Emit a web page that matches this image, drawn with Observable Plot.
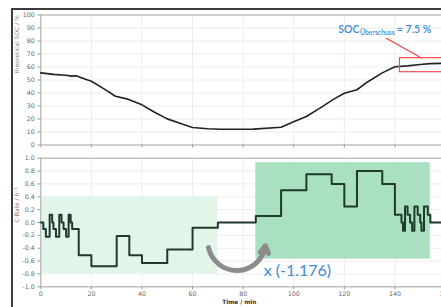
<!DOCTYPE html>
<html><head><meta charset="utf-8">
<script src="https://cdn.jsdelivr.net/npm/d3@7"></script>
<script src="https://cdn.jsdelivr.net/npm/@observablehq/plot@0.6"></script>
<style>
html,body{margin:0;padding:0;background:#fff;overflow:hidden}
#wrap{position:relative;width:441px;height:307px;overflow:hidden;background:#fff}
#top,#bottom{position:absolute;left:0}
#top{top:0}
#bottom{top:150px}
.frameL{position:absolute;left:11px;top:8px;width:2px;height:300px;background:#3c3c3c}
.frameT{position:absolute;left:11px;top:8px;width:440px;height:2px;background:#3c3c3c}
</style></head><body>
<div id="wrap"><div id="top"></div><div id="bottom"></div><div class="frameL"></div><div class="frameT"></div></div>
<script>
// ---- data ----
const xTicks = [0, 20, 40, 60, 80, 100, 120, 140, 160];
const socTicks = [0, 10, 20, 30, 40, 50, 60, 70, 80, 90, 100];
const crateTicks = [-1.0, -0.8, -0.6, -0.4, -0.2, 0.0, 0.2, 0.4, 0.6, 0.8, 1.0];

const socTime  = [0, 5, 10, 12, 14, 16, 20, 25, 29.5, 34, 40, 45, 50, 55, 60, 66, 71, 84, 95, 99.5, 105, 110.5, 116, 120, 125, 129, 135, 140, 145, 150, 154, 160];
const socValue = [55.5, 54.3, 53.7, 53.0, 53.2, 51.8, 49.0, 43.2, 37.5, 35.5, 30.9, 25.2, 20.1, 16.8, 13.5, 12.5, 12.1, 12.2, 13.7, 17.5, 21.9, 28.6, 35.5, 39.8, 42.5, 48.3, 55.5, 60.2, 60.9, 61.9, 62.6, 62.9];

const crateTime  = [0, 1, 2, 3.5, 4.5, 5, 6, 7.3, 8.2, 9, 10, 11, 11.8, 12.4, 15, 20, 30, 35, 40, 50, 60, 70, 85, 95, 105, 115, 120, 125, 135, 140, 142.6, 143.2, 144, 145, 146, 146.8, 147.7, 149, 150, 150.5, 151.5, 153, 154, 155, 160];
const crateValue = [0, -0.1, -0.22, 0.12, 0, -0.1, -0.22, 0.12, 0, -0.1, -0.22, 0.12, 0, -0.1, -0.51, -0.68, -0.21, -0.51, -0.63, -0.42, -0.08, 0, 0.1, 0.5, 0.75, 0.6, 0.25, 0.8, 0.6, 0.12, 0, -0.13, 0.25, 0.12, 0, -0.13, 0.25, 0.12, 0, -0.13, 0.25, 0.12, 0, 0, 0];

const bandStart = [0, 85];
const bandEnd   = [70, 154];
const bandLow   = [-0.8, -0.57];
const bandHigh  = [0.4, 0.93];

const surplusBox  = {x1: 142, x2: 166, y1: 56, y2: 66.8};
const surplusLine = {x1: 136.5, y1: 82.2, x2: 150.7, y2: 66.8};
const socMain = ["SOC"];
const socSub = ["Überschuss"];
const socValueText = ["= 7.5 %"];
const socMainAt = [126.0, 89];
const socSubAt = [126.2, 86.6];
const socValueAt = [154.4, 89];

const arrowFrom = [66.3, -0.39];
const arrowTo   = [88.8, -0.36];
const factorLabel = ["x (-1.176)"];
const factorAt = [88.1, -0.745];

const topYLabel = ["theoretical SOC / %"];
const topYLabelAt = [55];
const botYLabel = ["C-Rate / h\u207B\u00B9"];
const botYLabelAt = [0];
const xLabel = ["Time / min"];
const xLabelAt = [78.5];

// ---- build ----
const soc = socTime.map((t, i) => ({t, v: socValue[i]}));
const crate = crateTime.map((t, i) => ({t, v: crateValue[i]}));
const bands = bandStart.map((s, i) => ({x1: s, x2: bandEnd[i], y1: bandLow[i], y2: bandHigh[i]}));
const style = {fontFamily: "DejaVu Sans, sans-serif", fontSize: "6.3px", color: "#666", background: "transparent", overflow: "visible"};
const xr = [40.3, 445];
const grid = {stroke: "#ececec", strokeOpacity: 1};
const edge = {stroke: "#a8a8a8", strokeWidth: 1};
const blue = {fill: "#3d8bd9", fontWeight: 600, fontFamily: "Lato, sans-serif"};

const topPlot = Plot.plot({
  width: 441, height: 150,
  marginLeft: 40.3, marginRight: -4, marginTop: 14.5, marginBottom: 5.5,
  style,
  x: {domain: [xTicks[0], xTicks[xTicks.length - 1]], range: xr},
  y: {domain: [socTicks[0], socTicks[socTicks.length - 1]], range: [144.5, 14.5]},
  marks: [
    Plot.gridX(xTicks, grid),
    Plot.gridY(socTicks, grid),
    Plot.ruleY([socTicks[0], socTicks[socTicks.length - 1]], edge),
    Plot.ruleX([xTicks[0]], edge),
    Plot.axisY(socTicks, {tickSize: 3, tickPadding: 3, stroke: "#999", label: null, tickFormat: d => String(d)}),
    Plot.axisX(xTicks, {tickSize: 3, stroke: "#999", label: null, tickFormat: () => ""}),
    Plot.line(soc, {x: "t", y: "v", stroke: "#222", strokeWidth: 1.6}),
    Plot.rect([surplusBox], {x1: "x1", x2: "x2", y1: "y1", y2: "y2", fill: "none", stroke: "#f05050", strokeWidth: 1.2}),
    Plot.link([surplusLine], {x1: "x1", y1: "y1", x2: "x2", y2: "y2", stroke: "#f05050", strokeWidth: 1.2}),
    Plot.text(socMain, {text: d => d, x: () => socMainAt[0], y: () => socMainAt[1], textAnchor: "end", fontSize: 10.5, ...blue}),
    Plot.text(socSub, {text: d => d, x: () => socSubAt[0], y: () => socSubAt[1], textAnchor: "start", fontSize: 6.8, ...blue}),
    Plot.text(socValueText, {text: d => d, x: () => socValueAt[0], y: () => socValueAt[1], textAnchor: "end", fontSize: 10.5, ...blue}),
    Plot.text(topYLabel, {text: d => d, y: (d, i) => topYLabelAt[i], frameAnchor: "left", dx: -24, rotate: -90, fill: "#888", fontSize: 6})
  ]
});
document.getElementById("top").appendChild(topPlot);

const botPlot = Plot.plot({
  width: 441, height: 157,
  marginLeft: 40.3, marginRight: -4, marginTop: 7.7, marginBottom: 20.7,
  style,
  x: {domain: [xTicks[0], xTicks[xTicks.length - 1]], range: xr},
  y: {domain: [crateTicks[0], crateTicks[crateTicks.length - 1]], range: [136.3, 7.7]},
  marks: [
    Plot.gridX(xTicks, grid),
    Plot.gridY(crateTicks, grid),
    Plot.rect(bands, {x1: "x1", x2: "x2", y1: "y1", y2: "y2", fill: (d, i) => i === 0 ? "#e2f5e9" : "#a9e0c1"}),
    Plot.ruleY([crateTicks[0], crateTicks[crateTicks.length - 1]], edge),
    Plot.ruleX([xTicks[0]], edge),
    Plot.axisY(crateTicks, {tickSize: 3, tickPadding: 3, stroke: "#999", label: null, tickFormat: d => d.toFixed(1)}),
    Plot.axisX(xTicks, {tickSize: 3, tickPadding: 2, stroke: "#999", label: null, tickFormat: d => String(d)}),
    Plot.arrow([{x1: arrowFrom[0], y1: arrowFrom[1], x2: arrowTo[0], y2: arrowTo[1]}], {x1: "x1", y1: "y1", x2: "x2", y2: "y2", bend: -80, stroke: "#8c8c8c", strokeWidth: 5, headLength: 2.5}),
    Plot.line(crate, {x: "t", y: "v", curve: "step-after", stroke: "#1f3a2b", strokeWidth: 2}),
    Plot.text(factorLabel, {text: d => d, x: () => factorAt[0], y: () => factorAt[1], textAnchor: "start", fontSize: 16, fill: "#3d8bd9", fontFamily: "Lato, sans-serif"}),
    Plot.text(botYLabel, {text: d => d, y: (d, i) => botYLabelAt[i], frameAnchor: "left", dx: -24, rotate: -90, fill: "#9a7060", fontSize: 6}),
    Plot.text(xLabel, {text: d => d, x: (d, i) => xLabelAt[i], frameAnchor: "bottom", dy: 17.2, fill: "#333", fontSize: 5.8, fontWeight: 600})
  ]
});
document.getElementById("bottom").appendChild(botPlot);
</script></body></html>
